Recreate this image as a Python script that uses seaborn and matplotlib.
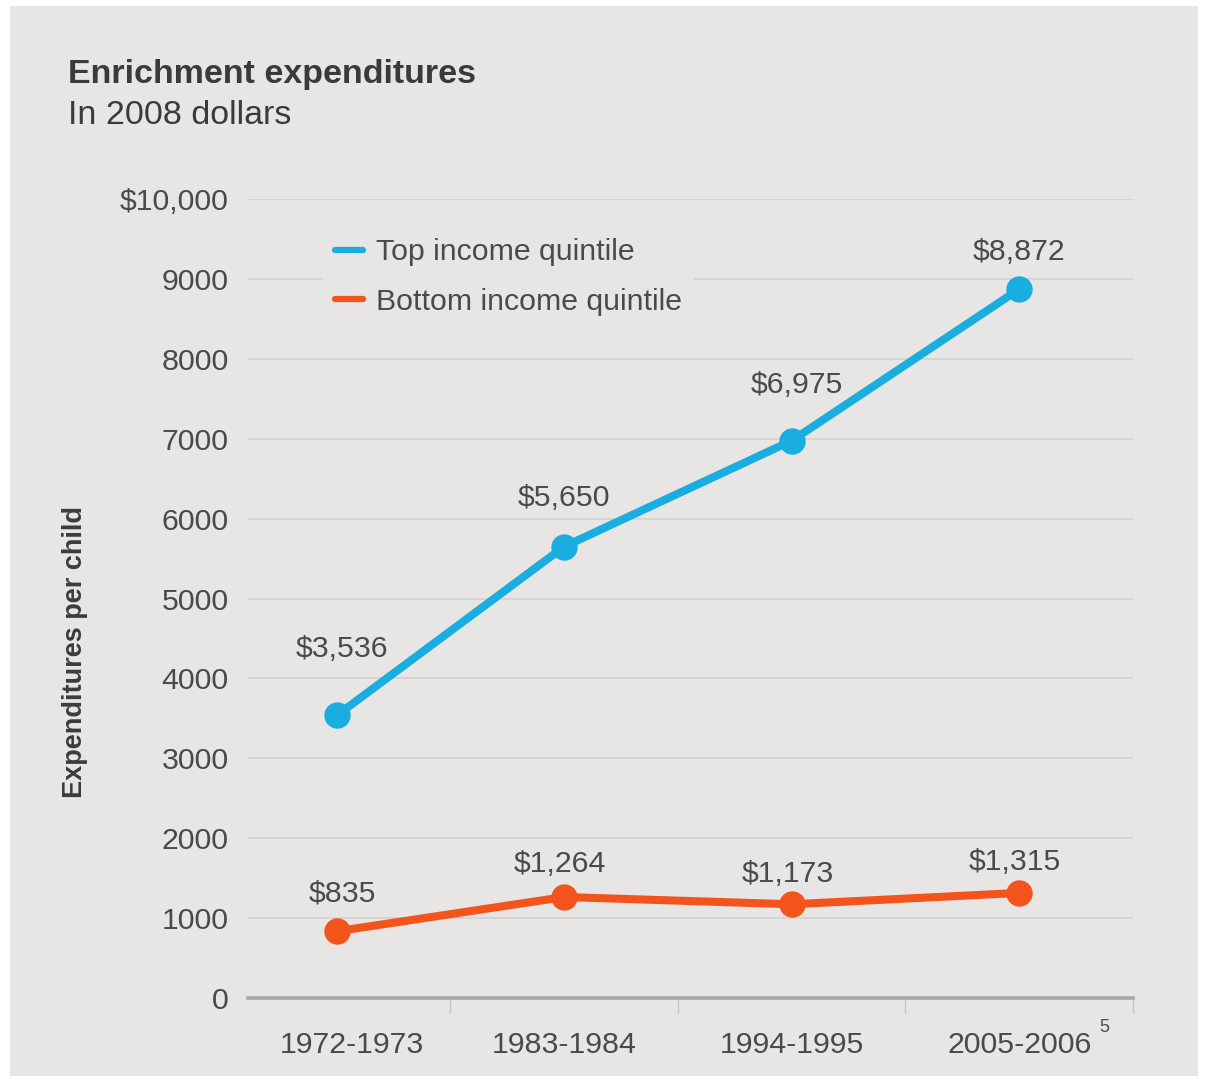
import pandas as pd
import seaborn as sns
import matplotlib.pyplot as plt
import matplotlib.transforms as mtransforms
from matplotlib.lines import Line2D
from matplotlib.patches import Rectangle

# data
periods = ['1972-1973', '1983-1984', '1994-1995', '2005-2006']
top_quintile = [3536, 5650, 6975, 8872]
bottom_quintile = [835, 1264, 1173, 1315]
series_names = ['Top income quintile', 'Bottom income quintile']
y_ticks = [0, 1000, 2000, 3000, 4000, 5000, 6000, 7000, 8000, 9000, 10000]
y_tick_labels = ['0', '1000', '2000', '3000', '4000', '5000', '6000', '7000', '8000', '9000', '$10,000']

# label offsets (points) for the value annotations
top_offsets = [(4, 38), (0, 25), (4, 30), (0, 17)]
bottom_offsets = [(4, 17), (-3, 14), (-3, 12), (-3, 12)]

bg = '#e8e5e5'
blue = '#19ade0'
orange = '#f2541b'
text_col = '#4a4a4a'
fs = 21.8

df = pd.DataFrame({
    'pos': list(range(len(periods))) * 2,
    'value': top_quintile + bottom_quintile,
    'series': [series_names[0]] * len(periods) + [series_names[1]] * len(periods),
})

sns.set_style('white')
plt.rcParams['font.family'] = ['Liberation Sans', 'DejaVu Sans']

fig = plt.figure(figsize=(12.07, 10.82), dpi=100)
fig.patch.set_facecolor('white')
fig.patches.append(Rectangle((10 / 1207, 6 / 1082), 1188 / 1207, 1070 / 1082,
                             transform=fig.transFigure, facecolor=bg, edgecolor='none', zorder=-10))

ax = fig.add_axes([248 / 1207, 1 - 998 / 1082, 885 / 1207, 799 / 1082])
ax.set_facecolor(bg)
ax.patch.set_alpha(0)

sns.lineplot(data=df, x='pos', y='value', hue='series',
             palette={series_names[0]: blue, series_names[1]: orange},
             marker='o', markersize=19, markeredgewidth=0, linewidth=5.8,
             legend=False, ax=ax, zorder=3)

ax.set_xlim(-0.39, 3.5)
ax.set_ylim(0, 10000)
ax.set_yticks(y_ticks)
ax.set_yticklabels(y_tick_labels)
ax.grid(axis='y', color='#d6d3d3', linewidth=1.3)
ax.set_axisbelow(True)

ax.set_xticks(range(len(periods)))
ax.set_xticklabels(periods)
ax.set_xticks([0.5, 1.5, 2.5, 3.5], minor=True)
ax.tick_params(axis='x', which='major', bottom=False, length=0, pad=24, labelsize=fs, labelcolor=text_col)
ax.tick_params(axis='x', which='minor', bottom=True, length=11, width=1, color='#c9c6c6', direction='out')
ax.tick_params(axis='y', length=0, pad=14, labelsize=fs, labelcolor=text_col)

# first period label sits a little to the right in the original
first = ax.get_xticklabels()[0]
first.set_transform(first.get_transform() + mtransforms.ScaledTranslation(15 / 100, 0, fig.dpi_scale_trans))

for side in ['top', 'right', 'left']:
    ax.spines[side].set_visible(False)
ax.spines['bottom'].set_color('#a9a7a7')
ax.spines['bottom'].set_linewidth(2.6)

ax.set_xlabel('')
ax.set_ylabel('Expenditures per child', fontsize=19.5, fontweight='bold', color='#3c3c3c')
ax.yaxis.set_label_coords(-0.181, 0.433)

# value annotations
for i, v in enumerate(top_quintile):
    ax.annotate(f'${v:,}', xy=(i, v), xytext=top_offsets[i], textcoords='offset points',
                ha='center', va='bottom', fontsize=fs, color=text_col)
for i, v in enumerate(bottom_quintile):
    ax.annotate(f'${v:,}', xy=(i, v), xytext=bottom_offsets[i], textcoords='offset points',
                ha='center', va='bottom', fontsize=fs, color=text_col)

# footnote marker on last period
ax.annotate('5', xy=(3, 0), xycoords=('data', 'axes fraction'), xytext=(61, -21),
            textcoords='offset points', ha='center', va='center', fontsize=13, color=text_col)

handles = [Line2D([0], [0], color=blue, linewidth=4.5),
           Line2D([0], [0], color=orange, linewidth=4.5)]
leg = ax.legend(handles, series_names, loc='upper left', bbox_to_anchor=(0.068, 0.985),
                fontsize=fs, frameon=True, handlelength=0.92, handletextpad=0.42,
                labelspacing=0.72, borderpad=0.4, labelcolor=text_col)
leg.get_frame().set_facecolor(bg)
leg.get_frame().set_edgecolor('none')
leg.get_frame().set_alpha(1)

fig.text(68 / 1207, 1 - 75 / 1082, 'Enrichment expenditures', fontsize=24.5, fontweight='bold',
         color='#3a3a3a', va='center', ha='left')
fig.text(68 / 1207, 1 - 116 / 1082, 'In 2008 dollars', fontsize=24.5,
         color='#3a3a3a', va='center', ha='left')

fig.savefig('out.png', dpi=100, facecolor='white')
